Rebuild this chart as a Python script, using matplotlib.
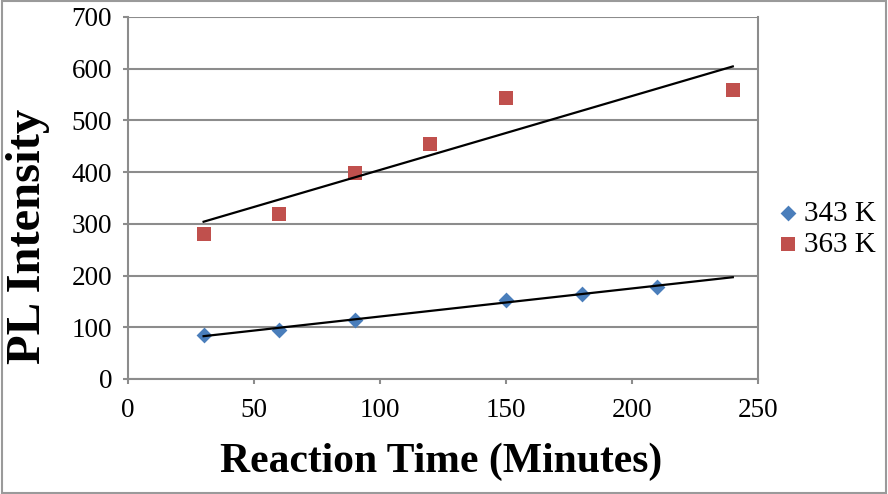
import numpy as np
import matplotlib
matplotlib.use("Agg")
import matplotlib.pyplot as plt
from matplotlib.patches import Rectangle

plt.rcParams['font.family'] = ['Liberation Serif', 'DejaVu Serif']

x_343 = [30, 60, 90, 150, 180, 210]
y_343 = [85, 95, 115, 152, 165, 178]
x_363 = [30, 60, 90, 120, 150, 240]
y_363 = [280, 320, 398, 455, 543, 558]
labels = ["343 K", "363 K"]
x_ticks = [0, 50, 100, 150, 200, 250]
y_ticks = [0, 100, 200, 300, 400, 500, 600, 700]

fig = plt.figure(figsize=(8.88, 4.94), dpi=100)
ax = fig.add_axes([128/888, 1-379/494, (758-128)/888, (379-17)/494])

blue = '#4a7ebb'
red = '#c0504d'
grid = '#8c8c8c'

ax.scatter(x_343, y_343, marker='D', s=65, color=blue, label=labels[0], zorder=3, linewidths=0)
ax.scatter(x_363, y_363, marker='s', s=95, color=red, label=labels[1], zorder=3, linewidths=0)

trend_x = np.array([30, 240])
for xs, ys in [(x_343, y_343), (x_363, y_363)]:
    m, b = np.polyfit(xs, ys, 1)
    ax.plot(trend_x, m*trend_x + b, color='black', lw=1.6, zorder=4)

ax.set_xlim(0, 250)
ax.set_ylim(0, 700)
ax.set_xticks(x_ticks)
ax.set_yticks(y_ticks)
ax.yaxis.grid(True, color=grid, lw=1.5)
ax.set_axisbelow(True)
for s in ax.spines.values():
    s.set_color(grid)
    s.set_linewidth(1.5)
ax.spines['top'].set_visible(False)
ax.tick_params(axis='both', direction='out', length=3.5, width=1.5, color=grid,
               labelsize=19.5)
ax.tick_params(axis='y', pad=8)
ax.tick_params(axis='x', pad=10)

fig.text(441/888, 1-462/494, "Reaction Time (Minutes)", fontsize=30, fontweight='bold',
         ha='center', va='center')
fig.text(28/888, 1-236/494, "PL Intensity", fontsize=35, fontweight='bold',
         ha='center', va='center', rotation=90)

leg = fig.legend(loc='center left', bbox_to_anchor=(773/888, 1-229/494), frameon=False,
                 fontsize=21, handletextpad=0.05, labelspacing=0.15, handlelength=1.0,
                 borderpad=0, borderaxespad=0)

fig.patches.append(Rectangle((0.002, 0.003), 0.996, 0.994, transform=fig.transFigure,
                             fill=False, edgecolor='#9a9a9a', lw=1.5))

fig.savefig("out.png", dpi=100)
